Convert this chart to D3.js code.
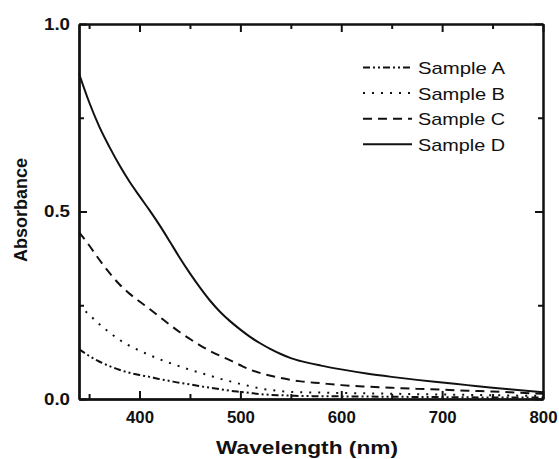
<!DOCTYPE html>
<html>
<head>
<meta charset="utf-8">
<script src="https://cdn.jsdelivr.net/npm/d3@7"></script>
<style>
  body { margin: 0; background: #fff; }
  text { font-family: "Liberation Sans", Arial, sans-serif; fill: #111; }
</style>
</head>
<body>
<div id="vis"></div>
<script>
// data
const wavelength = [340, 350, 360, 370, 380, 390, 400, 410, 420, 430, 440, 450, 460, 470, 480, 490, 500,
    510, 520, 530, 540, 550, 560, 580, 600, 625, 650, 675, 700, 725, 750, 775, 800];
const sampleA = [0.133, 0.115, 0.100, 0.088, 0.078, 0.070, 0.064, 0.059, 0.053, 0.048, 0.043, 0.039, 0.034,
    0.030, 0.026, 0.022, 0.019, 0.016, 0.013, 0.011, 0.010, 0.009, 0.008, 0.0075, 0.007, 0.0065, 0.006,
    0.0055, 0.005, 0.0045, 0.004, 0.004, 0.004];
const sampleB = [0.250, 0.225, 0.200, 0.178, 0.158, 0.142, 0.129, 0.117, 0.106, 0.096, 0.087, 0.078, 0.070,
    0.062, 0.054, 0.047, 0.040, 0.034, 0.028, 0.024, 0.021, 0.019, 0.018, 0.017, 0.016, 0.015, 0.014,
    0.013, 0.012, 0.011, 0.010, 0.009, 0.008];
const sampleC = [0.445, 0.410, 0.372, 0.337, 0.306, 0.281, 0.260, 0.240, 0.219, 0.198, 0.178, 0.160, 0.143,
    0.128, 0.115, 0.103, 0.090, 0.078, 0.069, 0.062, 0.056, 0.051, 0.047, 0.042, 0.037, 0.033, 0.030,
    0.027, 0.025, 0.022, 0.020, 0.017, 0.014];
const sampleD = [0.868, 0.792, 0.727, 0.673, 0.624, 0.580, 0.541, 0.503, 0.463, 0.420, 0.376, 0.335, 0.297,
    0.262, 0.232, 0.207, 0.185, 0.165, 0.148, 0.133, 0.120, 0.109, 0.101, 0.089, 0.079, 0.068, 0.059,
    0.051, 0.044, 0.037, 0.030, 0.024, 0.018];
const seriesNames = ["Sample A", "Sample B", "Sample C", "Sample D"];
const seriesDash = ["7,3,2,3,2,3", "2,7", "9,6", null];
const xMajor = [400, 500, 600, 700, 800];
const xMinor = [350, 450, 550, 650, 750];
const yMajor = [0, 0.5, 1.0];
const yMinor = [0.25, 0.75];

const svg = d3.select("#vis")
    .append("svg")
    .attr("width", 559)
    .attr("height", 459);

const plotLeft = 79, plotRight = 543, plotTop = 24, plotBottom = 399;

const x = d3.scaleLinear().domain([340, 800]).range([plotLeft, plotRight]);
const y = d3.scaleLinear().domain([0, 1]).range([plotBottom, plotTop]);

// curves
const allSeries = [sampleA, sampleB, sampleC, sampleD];
const line = d3.line()
    .x(d => x(d[0]))
    .y(d => y(d[1]))
    .curve(d3.curveMonotoneX);

svg.append("g")
    .selectAll("path")
    .data(allSeries)
    .enter()
    .append("path")
    .attr("d", s => line(wavelength.map((w, i) => [w, s[i]])))
    .attr("fill", "none")
    .attr("stroke", "#111")
    .attr("stroke-width", 2)
    .attr("stroke-dasharray", (s, i) => seriesDash[i]);

// axes: labels from one axis, inward ticks from an axis of the opposite orientation
function styleAxis(g) {
    g.select(".domain").attr("stroke", "#111").attr("stroke-width", 2);
    g.selectAll(".tick line").attr("stroke", "#111").attr("stroke-width", 2);
}

function ticksAt(axisFn, pos, isX, values, size) {
    svg.append("g")
        .attr("transform", isX ? `translate(0,${pos})` : `translate(${pos},0)`)
        .call(axisFn(isX ? x : y).tickValues(values).tickSize(size).tickSizeOuter(0).tickFormat(""))
        .call(styleAxis);
}

// labels
const xBottom = svg.append("g").attr("transform", `translate(0,${plotBottom})`)
    .call(d3.axisBottom(x).tickValues(xMajor).tickSize(0).tickPadding(13).tickFormat(d3.format("d")));
xBottom.call(styleAxis);
xBottom.selectAll("text")
    .attr("font-size", 16).attr("font-weight", "bold")
    .attr("textLength", 28).attr("lengthAdjust", "spacingAndGlyphs");

const yLeft = svg.append("g").attr("transform", `translate(${plotLeft},0)`)
    .call(d3.axisLeft(y).tickValues(yMajor).tickSize(0).tickPadding(9).tickFormat(d3.format(".1f")));
yLeft.call(styleAxis);
yLeft.selectAll("text")
    .attr("font-size", 16).attr("font-weight", "bold")
    .attr("textLength", 26).attr("lengthAdjust", "spacingAndGlyphs");

// inward ticks on all four sides
ticksAt(d3.axisTop, plotBottom, true, xMajor, 8);
ticksAt(d3.axisTop, plotBottom, true, xMinor, 5);
ticksAt(d3.axisBottom, plotTop, true, xMajor, 8);
ticksAt(d3.axisBottom, plotTop, true, xMinor, 5);
ticksAt(d3.axisRight, plotLeft, false, yMajor, 8);
ticksAt(d3.axisRight, plotLeft, false, yMinor, 5);
ticksAt(d3.axisLeft, plotRight, false, yMajor, 8);
ticksAt(d3.axisLeft, plotRight, false, yMinor, 5);

// axis titles
svg.append("text")
    .attr("x", 307)
    .attr("y", 454)
    .attr("text-anchor", "middle")
    .attr("font-size", 19)
    .attr("font-weight", "bold")
    .attr("textLength", 182)
    .attr("lengthAdjust", "spacingAndGlyphs")
    .text("Wavelength (nm)");

svg.append("text")
    .attr("transform", "translate(27,210) rotate(-90)")
    .attr("text-anchor", "middle")
    .attr("font-size", 18)
    .attr("font-weight", "bold")
    .text("Absorbance");

// legend
const legend = svg.append("g")
    .selectAll("g")
    .data(seriesNames)
    .enter()
    .append("g")
    .attr("transform", (d, i) => `translate(0,${74 + i * 25.6})`);

legend.append("line")
    .attr("x1", 363).attr("x2", 412)
    .attr("y1", -6.5).attr("y2", -6.5)
    .attr("stroke", "#111")
    .attr("stroke-width", 2)
    .attr("stroke-dasharray", (d, i) => seriesDash[i]);

legend.append("text")
    .attr("x", 418)
    .attr("font-size", 17)
    .attr("textLength", 87)
    .attr("lengthAdjust", "spacingAndGlyphs")
    .text(d => d);
</script>
</body>
</html>
